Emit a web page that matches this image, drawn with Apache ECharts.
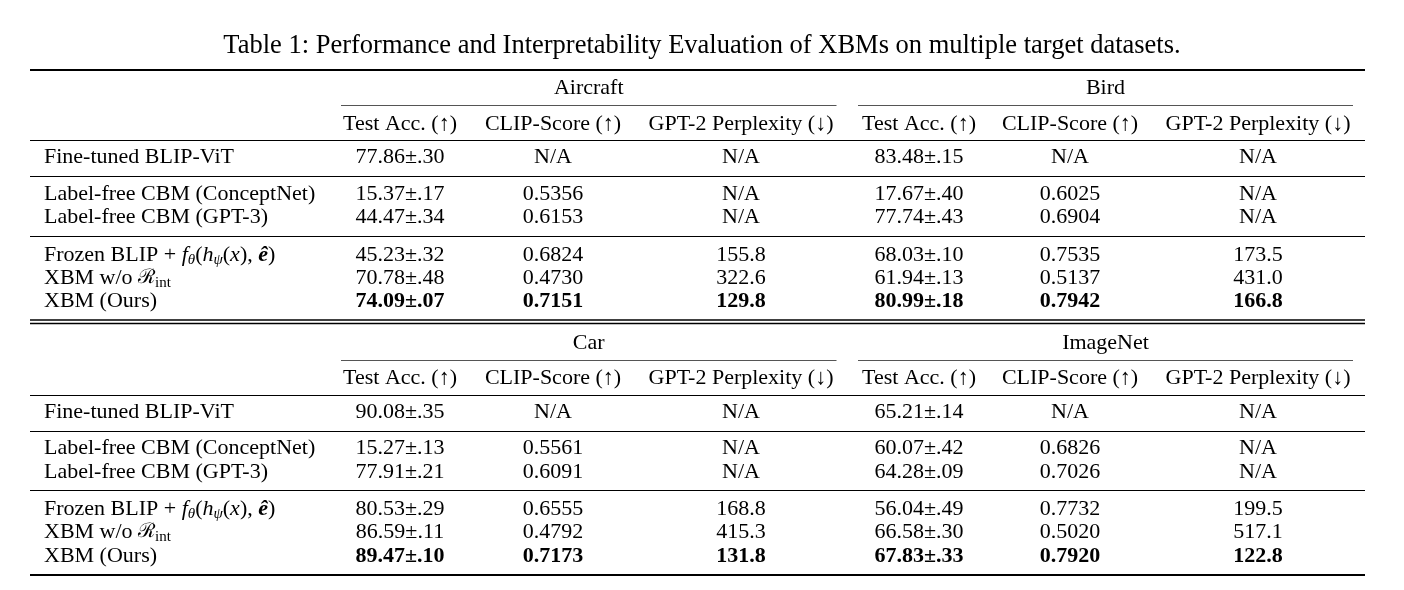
<!DOCTYPE html>
<html>
<head>
<meta charset="utf-8">
<script src="https://cdn.jsdelivr.net/npm/echarts@6/dist/echarts.min.js"></script>
<style>
  html, body { margin: 0; padding: 0; background: #fff; }
  #table1 { width: 1404px; height: 590px; }
</style>
</head>
<body>
<div id="table1"></div>
<script>
// ---------------------------------------------------------------- data
const titleText = 'Table 1: Performance and Interpretability Evaluation of XBMs on multiple target datasets.';
const datasets = ['Aircraft', 'Bird', 'Car', 'ImageNet'];
const metrics = ['Test Acc. (↑)', 'CLIP-Score (↑)', 'GPT-2 Perplexity (↓)'];
// row labels use rich-text markup for the math bits
const methods = [
  '{n|Fine-tuned BLIP-ViT}',
  '{n|Label-free CBM (ConceptNet)}',
  '{n|Label-free CBM (GPT-3)}',
  '{n|Frozen BLIP + }{it|f}{sub|θ}{n|(}{it|h}{sub|ψ}{n|(}{it|x}{n|), }{be|ê}{n|)}',
  '{n|XBM w/o }{cal|ℛ}{subr|int}',
  '{n|XBM (Ours)}'
];
const boldRow = 5; // "XBM (Ours)" is set in bold

const aircraftAcc = ['77.86±.30', '15.37±.17', '44.47±.34', '45.23±.32', '70.78±.48', '74.09±.07'];
const aircraftClip = ['N/A', '0.5356', '0.6153', '0.6824', '0.4730', '0.7151'];
const aircraftPpl = ['N/A', 'N/A', 'N/A', '155.8', '322.6', '129.8'];

const birdAcc = ['83.48±.15', '17.67±.40', '77.74±.43', '68.03±.10', '61.94±.13', '80.99±.18'];
const birdClip = ['N/A', '0.6025', '0.6904', '0.7535', '0.5137', '0.7942'];
const birdPpl = ['N/A', 'N/A', 'N/A', '173.5', '431.0', '166.8'];

const carAcc = ['90.08±.35', '15.27±.13', '77.91±.21', '80.53±.29', '86.59±.11', '89.47±.10'];
const carClip = ['N/A', '0.5561', '0.6091', '0.6555', '0.4792', '0.7173'];
const carPpl = ['N/A', 'N/A', 'N/A', '168.8', '415.3', '131.8'];

const imagenetAcc = ['65.21±.14', '60.07±.42', '64.28±.09', '56.04±.49', '66.58±.30', '67.83±.33'];
const imagenetClip = ['N/A', '0.6826', '0.7026', '0.7732', '0.5020', '0.7920'];
const imagenetPpl = ['N/A', 'N/A', 'N/A', '199.5', '517.1', '122.8'];

// ---------------------------------------------------------------- layout
// the grid spans the page 1:1, so layout numbers are in page pixels
const labelX = 44;
const colX = [400, 553, 741, 919, 1070, 1258];     // metric column centres
const groupSpan = [[341, 836.5], [858, 1353]];    // cmidrule extents
const tableSpan = [30, 1365];
const blockRows = [
  { group: 88, header: 124, rows: [157, 194, 217, 255, 278, 301] },
  { group: 343, header: 378, rows: [412, 448, 472, 509, 532, 556] }
];
const blockRules = [
  { top: 70, topW: 2, cmid: 105.5, mids: [140.5, 176.5, 236.5] },
  { top: null, cmid: 360.5, mids: [395.5, 431.5, 490.5] }
];
const doubleRule = [320, 323.5];
const bottomRule = 575;

const serif = '"Liberation Serif", "DejaVu Serif", serif';
const fontSize = 22;
const ink = '#000';

const richStyles = {
  n: { fontFamily: serif, fontSize: fontSize, lineHeight: 26, fill: ink },
  it: { fontFamily: serif, fontSize: fontSize, fontStyle: 'italic', lineHeight: 26, fill: ink },
  be: { fontFamily: serif, fontSize: fontSize, fontStyle: 'italic', fontWeight: 'bold', lineHeight: 26, fill: ink },
  cal: { fontFamily: '"DejaVu Serif", serif', fontSize: 20, lineHeight: 26, fill: ink },
  sub: { fontFamily: serif, fontSize: 15, fontStyle: 'italic', lineHeight: 16, verticalAlign: 'bottom', fill: ink },
  subr: { fontFamily: serif, fontSize: 15, lineHeight: 16, verticalAlign: 'bottom', fill: ink }
};

// ---------------------------------------------------------------- build
const tableInit = () => {
  const el = document.getElementById('table1');
  const chart = echarts.init(el);

  const blocks = [
    [
      { name: datasets[0], cols: [aircraftAcc, aircraftClip, aircraftPpl] },
      { name: datasets[1], cols: [birdAcc, birdClip, birdPpl] }
    ],
    [
      { name: datasets[2], cols: [carAcc, carClip, carPpl] },
      { name: datasets[3], cols: [imagenetAcc, imagenetClip, imagenetPpl] }
    ]
  ];

  // every cell: x, y, text, align, bold, rich
  const cells = [];
  blocks.forEach((pair, b) => {
    const L = blockRows[b];
    pair.forEach((ds, g) => {
      const gx = (groupSpan[g][0] + groupSpan[g][1]) / 2;
      cells.push({ x: gx, y: L.group, text: ds.name, align: 'center' });
      metrics.forEach((m, k) => {
        cells.push({ x: colX[g * 3 + k], y: L.header, text: m, align: 'center' });
        ds.cols[k].forEach((v, r) => {
          cells.push({ x: colX[g * 3 + k], y: L.rows[r], text: v, align: 'center', bold: r === boldRow });
        });
      });
    });
    methods.forEach((m, r) => {
      cells.push({ x: labelX, y: L.rows[r], text: m, align: 'left', rich: true });
    });
  });

  // horizontal rules: x1, x2, y, width, colour
  const rules = [];
  blockRules.forEach(R => {
    if (R.top !== null) rules.push([tableSpan[0], tableSpan[1], R.top, R.topW, ink]);
    groupSpan.forEach(s => rules.push([s[0], s[1], R.cmid, 1, '#555']));
    R.mids.forEach(y => rules.push([tableSpan[0], tableSpan[1], y, 1.1, ink]));
  });
  doubleRule.forEach(y => rules.push([tableSpan[0], tableSpan[1], y, 1.6, ink]));
  rules.push([tableSpan[0], tableSpan[1], bottomRule, 2, ink]);

  const option = {
    animation: false,
    backgroundColor: '#fff',
    title: {
      text: titleText,
      left: 'center',
      top: 33,
      padding: 0,
      textStyle: { fontFamily: serif, fontSize: 26.5, fontWeight: 'normal', color: ink }
    },
    grid: { left: 0, right: 0, top: 0, bottom: 0 },
    xAxis: { type: 'value', min: 0, max: 1404, show: false },
    yAxis: { type: 'value', min: 0, max: 590, inverse: true, show: false },
    series: [
      {
        type: 'custom',
        name: 'rules',
        silent: true,
        data: rules.map(r => [r[0], r[2], r[1]]),
        renderItem: (params, api) => {
          const r = rules[params.dataIndex];
          const p1 = api.coord([api.value(0), api.value(1)]);
          const p2 = api.coord([api.value(2), api.value(1)]);
          return {
            type: 'line',
            shape: { x1: p1[0], y1: p1[1], x2: p2[0], y2: p2[1] },
            style: { stroke: r[4], lineWidth: r[3] }
          };
        }
      },
      {
        type: 'custom',
        name: 'cells',
        silent: true,
        data: cells.map(c => [c.x, c.y]),
        renderItem: (params, api) => {
          const c = cells[params.dataIndex];
          const p = api.coord([api.value(0), api.value(1)]);
          const style = {
            text: c.text,
            x: p[0],
            y: p[1],
            align: c.align,
            verticalAlign: 'middle',
            fill: ink,
            fontFamily: serif,
            fontSize: fontSize,
            fontWeight: c.bold ? 'bold' : 'normal'
          };
          if (c.rich) style.rich = richStyles;
          return { type: 'text', style };
        }
      }
    ]
  };

  chart.setOption(option);
};

tableInit();
</script>
</body>
</html>
